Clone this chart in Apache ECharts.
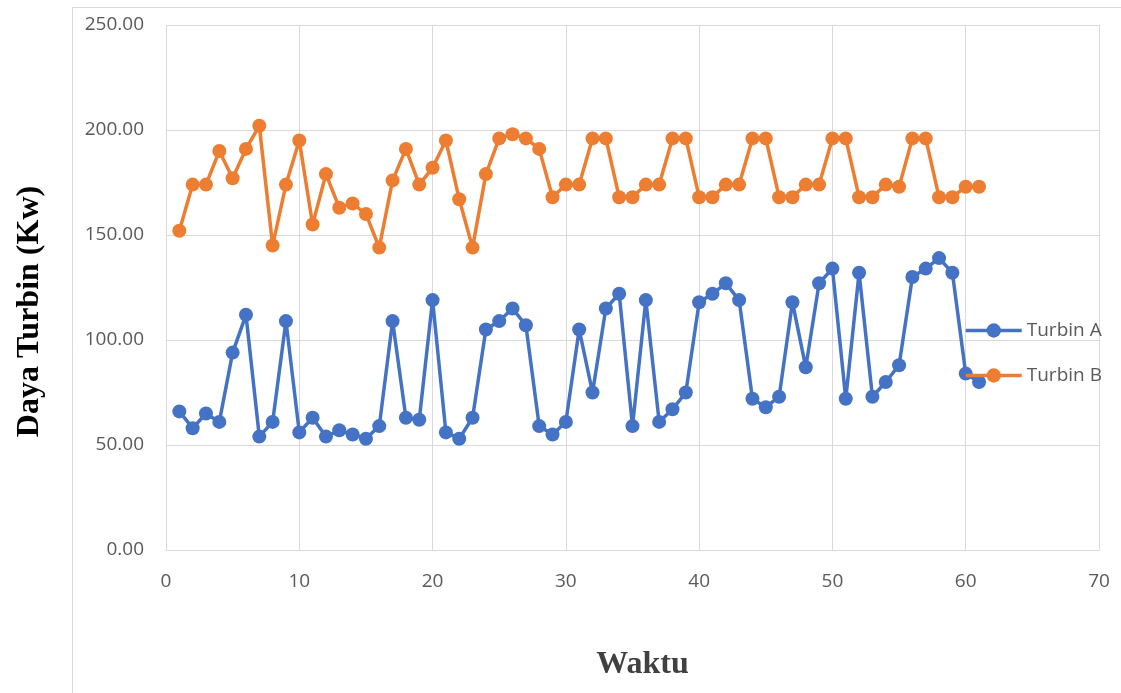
<!DOCTYPE html>
<html>
<head>
<meta charset="utf-8">
<script src="https://cdn.jsdelivr.net/npm/echarts@6/dist/echarts.min.js"></script>
<style>html,body{margin:0;padding:0;background:#fff}#c{width:1121px;height:693px}</style>
</head>
<body>
<div id="c"></div>
<script>
const waktu = [1,2,3,4,5,6,7,8,9,10,11,12,13,14,15,16,17,18,19,20,21,22,23,24,25,26,27,28,29,30,31,32,33,34,35,36,37,38,39,40,41,42,43,44,45,46,47,48,49,50,51,52,53,54,55,56,57,58,59,60,61];
const turbinA = [66,58,65,61,94,112,54,61,109,56,63,54,57,55,53,59,109,63,62,119,56,53,63,105,109,115,107,59,55,61,105,75,115,122,59,119,61,67,75,118,122,127,119,72,68,73,118,87,127,134,72,132,73,80,88,130,134,139,132,84,80];
const turbinB = [152,174,174,190,177,191,202,145,174,195,155,179,163,165,160,144,176,191,174,182,195,167,144,179,196,198,196,191,168,174,174,196,196,168,168,174,174,196,196,168,168,174,174,196,196,168,168,174,174,196,196,168,168,174,173,196,196,168,168,173,173];
const yTicks = {min:0, max:250, interval:50};
const xTicks = {min:0, max:70, interval:10};

const chart = echarts.init(document.getElementById('c'));
const lab = {color:'#595959', fontFamily:'Open Sans', fontSize:19};
chart.setOption({
  animation:false,
  graphic:[{type:'rect', shape:{x:72.5,y:7.5,width:1100,height:720}, style:{fill:'none', stroke:'#d9d9d9', lineWidth:1}, z:-1}],
  grid:{left:166, top:25, right:22, bottom:143, containLabel:false, outerBoundsMode:'none'},
  legend:{orient:'vertical', left:959, top:316, itemWidth:56, itemHeight:18, itemGap:26,
    lineStyle:{width:3.5},
    textStyle:{color:'#595959', fontFamily:'Open Sans', fontSize:19},
    data:['Turbin A','Turbin B']},
  xAxis:{type:'value', min:xTicks.min, max:xTicks.max, interval:xTicks.interval,
    name:'Waktu', nameLocation:'middle', nameGap:99,
    nameTextStyle:{fontFamily:'Liberation Serif', fontWeight:'bold', fontSize:32, color:'#404040', padding:[0,0,0,20]},
    axisLine:{show:true, lineStyle:{color:'#d9d9d9', width:1}}, axisTick:{show:false},
    axisLabel:Object.assign({margin:22}, lab),
    splitLine:{show:true, lineStyle:{color:'#d9d9d9', width:1}}},
  yAxis:{type:'value', min:yTicks.min, max:yTicks.max, interval:yTicks.interval,
    name:'Daya Turbin (Kw)', nameLocation:'middle', nameGap:120,
    nameTextStyle:{fontFamily:'Liberation Serif', fontWeight:'bold', fontSize:32, color:'#000', padding:[0,48,0,0]},
    axisLine:{show:false}, axisTick:{show:false},
    axisLabel:Object.assign({margin:22, formatter:v=>v.toFixed(2)}, lab),
    splitLine:{show:true, lineStyle:{color:'#d9d9d9', width:1}}},
  series:[
    {name:'Turbin A', type:'line', data:waktu.map((x,i)=>[x,turbinA[i]]), symbol:'circle', symbolSize:14,
     lineStyle:{width:3.5, color:'#4472C4'}, itemStyle:{color:'#4472C4'}},
    {name:'Turbin B', type:'line', data:waktu.map((x,i)=>[x,turbinB[i]]), symbol:'circle', symbolSize:14,
     lineStyle:{width:3.5, color:'#ED7D31'}, itemStyle:{color:'#ED7D31'}}
  ]
});
</script>
</body>
</html>
